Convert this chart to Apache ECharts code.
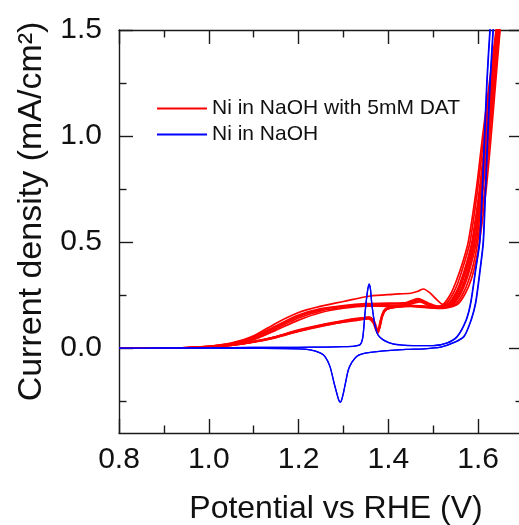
<!DOCTYPE html>
<html>
<head>
<meta charset="utf-8">
<script src="https://cdn.jsdelivr.net/npm/echarts@6/dist/echarts.min.js"></script>
<style>
  html, body { margin: 0; padding: 0; background: #fff; }
  #chart { width: 519px; height: 525px; }
</style>
</head>
<body>
<div id="chart"></div>
<script>
// Cyclic voltammograms of Ni electrodes, current density vs potential.
// Each cycle: anodic sweep from 0.80 V, then cathodic sweep back.

const seriesNames = ['Ni in NaOH with 5mM DAT', 'Ni in NaOH'];

const xTickLabels = [0.8, 1.0, 1.2, 1.4, 1.6];
const yTickLabels = [0.0, 0.5, 1.0, 1.5];
const yMinorTicks = [-0.25, 0.25, 0.75, 1.25];

// Ni in NaOH with 5 mM DAT, five cycles
const datCycle1 = [
  [0.80,0.000],[0.90,0.001],[0.95,0.003],[1.00,0.009],[1.05,0.024],[1.10,0.058],[1.15,0.118],[1.20,0.168],
  [1.25,0.198],[1.30,0.220],[1.36,0.246],[1.41,0.254],[1.45,0.259],[1.466,0.268],[1.478,0.279],[1.492,0.262],
  [1.509,0.226],[1.522,0.205],[1.534,0.210],[1.550,0.26],[1.562,0.32],[1.574,0.40],[1.586,0.50],[1.603,0.75],
  [1.616,1.00],[1.629,1.25],[1.643,1.50],[1.650,1.62],
  [1.652,1.62],[1.644,1.50],[1.631,1.25],[1.618,1.00],[1.605,0.75],[1.588,0.50],[1.577,0.40],[1.565,0.32],
  [1.553,0.26],[1.537,0.21],[1.515,0.195],[1.48,0.198],[1.45,0.202],[1.42,0.198],[1.40,0.192],[1.39,0.178],
  [1.384,0.145],[1.379,0.098],[1.376,0.074],[1.372,0.092],[1.366,0.126],[1.356,0.142],[1.33,0.136],[1.30,0.126],
  [1.25,0.107],[1.20,0.083],[1.15,0.053],[1.10,0.030],[1.05,0.014],[1.00,0.005],[0.95,0.002],[0.90,0.001],[0.80,0.000]
];
const datCycle2 = [
  [0.80,0.000],[0.90,0.001],[0.95,0.003],[1.00,0.008],[1.05,0.021],[1.10,0.050],[1.15,0.100],[1.20,0.150],
  [1.25,0.182],[1.30,0.198],[1.35,0.207],[1.40,0.208],[1.44,0.212],[1.468,0.230],[1.49,0.208],[1.51,0.195],
  [1.524,0.21],[1.540,0.26],[1.552,0.32],[1.565,0.40],[1.578,0.50],[1.596,0.75],[1.610,1.00],[1.625,1.25],
  [1.640,1.50],[1.646,1.62],
  [1.651,1.62],[1.645,1.50],[1.633,1.25],[1.620,1.00],[1.608,0.75],[1.592,0.50],[1.581,0.40],[1.570,0.32],
  [1.558,0.26],[1.542,0.21],[1.52,0.193],[1.49,0.195],[1.46,0.200],[1.43,0.197],[1.405,0.190],[1.392,0.176],
  [1.385,0.142],[1.380,0.095],[1.377,0.072],[1.373,0.088],[1.367,0.122],[1.357,0.140],[1.33,0.133],[1.30,0.124],
  [1.25,0.105],[1.20,0.080],[1.15,0.051],[1.10,0.029],[1.05,0.013],[1.00,0.005],[0.95,0.002],[0.90,0.001],[0.80,0.000]
];
const datCycle3 = [
  [0.80,0.000],[0.90,0.001],[0.95,0.002],[1.00,0.007],[1.05,0.019],[1.10,0.045],[1.15,0.092],[1.20,0.142],
  [1.25,0.176],[1.30,0.193],[1.35,0.203],[1.40,0.202],[1.44,0.207],[1.47,0.224],[1.49,0.206],[1.51,0.190],
  [1.529,0.21],[1.545,0.26],[1.557,0.32],[1.569,0.40],[1.582,0.50],[1.599,0.75],[1.613,1.00],[1.627,1.25],
  [1.641,1.50],[1.647,1.62],
  [1.652,1.62],[1.646,1.50],[1.635,1.25],[1.623,1.00],[1.611,0.75],[1.596,0.50],[1.585,0.40],[1.574,0.32],
  [1.562,0.26],[1.546,0.21],[1.525,0.192],[1.50,0.190],[1.47,0.196],[1.44,0.199],[1.41,0.191],[1.394,0.180],
  [1.386,0.148],[1.381,0.100],[1.377,0.078],[1.373,0.094],[1.367,0.128],[1.356,0.145],[1.33,0.138],[1.30,0.128],
  [1.25,0.108],[1.20,0.084],[1.15,0.054],[1.10,0.031],[1.05,0.015],[1.00,0.006],[0.95,0.002],[0.90,0.001],[0.80,0.000]
];
const datCycle4 = [
  [0.80,0.000],[0.90,0.001],[0.95,0.003],[1.00,0.009],[1.05,0.023],[1.10,0.054],[1.15,0.106],[1.20,0.156],
  [1.25,0.186],[1.30,0.201],[1.35,0.210],[1.40,0.212],[1.44,0.215],[1.466,0.234],[1.49,0.212],[1.51,0.198],
  [1.525,0.198],[1.538,0.21],[1.554,0.26],[1.566,0.32],[1.578,0.40],[1.589,0.50],[1.606,0.75],[1.619,1.00],
  [1.631,1.25],[1.644,1.50],[1.650,1.62],
  [1.654,1.62],[1.648,1.50],[1.637,1.25],[1.626,1.00],[1.615,0.75],[1.599,0.50],[1.590,0.40],[1.579,0.32],
  [1.567,0.26],[1.551,0.21],[1.53,0.195],[1.50,0.193],[1.47,0.198],[1.44,0.201],[1.41,0.194],[1.395,0.182],
  [1.387,0.150],[1.382,0.104],[1.378,0.080],[1.374,0.097],[1.368,0.130],[1.357,0.147],[1.33,0.140],[1.30,0.130],
  [1.25,0.110],[1.20,0.086],[1.15,0.055],[1.10,0.032],[1.05,0.015],[1.00,0.006],[0.95,0.002],[0.90,0.001],[0.80,0.000]
];
const datCycle5 = [
  [0.80,0.000],[0.90,0.001],[0.95,0.002],[1.00,0.006],[1.05,0.017],[1.10,0.040],[1.15,0.085],[1.20,0.132],
  [1.25,0.168],[1.30,0.188],[1.35,0.198],[1.40,0.197],[1.44,0.202],[1.47,0.218],[1.49,0.201],[1.51,0.187],
  [1.528,0.190],[1.543,0.21],[1.559,0.26],[1.571,0.32],[1.582,0.40],[1.593,0.50],[1.609,0.75],[1.621,1.00],
  [1.633,1.25],[1.645,1.50],[1.651,1.62],
  [1.656,1.62],[1.649,1.50],[1.639,1.25],[1.629,1.00],[1.618,0.75],[1.603,0.50],[1.594,0.40],[1.584,0.32],
  [1.572,0.26],[1.556,0.21],[1.535,0.192],[1.51,0.188],[1.48,0.192],[1.45,0.197],[1.42,0.193],[1.40,0.186],
  [1.39,0.172],[1.384,0.140],[1.379,0.092],[1.376,0.070],[1.372,0.087],[1.366,0.120],[1.355,0.138],[1.33,0.131],
  [1.30,0.122],[1.25,0.103],[1.20,0.079],[1.15,0.050],[1.10,0.028],[1.05,0.013],[1.00,0.005],[0.95,0.002],[0.90,0.001],[0.80,0.000]
];

// Ni in NaOH, two cycles
const naohCycle1 = [
  [0.80,0.000],[0.90,0.001],[1.00,0.002],[1.10,0.003],[1.20,0.004],[1.26,0.005],[1.30,0.007],[1.325,0.010],
  [1.337,0.016],[1.343,0.050],[1.348,0.166],[1.353,0.262],[1.357,0.303],[1.360,0.282],[1.363,0.213],[1.367,0.150],
  [1.371,0.100],[1.377,0.063],[1.389,0.039],[1.411,0.020],[1.456,0.012],[1.500,0.012],[1.531,0.025],[1.553,0.055],
  [1.573,0.133],[1.583,0.213],[1.594,0.370],[1.603,0.50],[1.609,0.75],[1.614,1.00],[1.619,1.25],[1.626,1.50],[1.632,1.65],
  [1.636,1.65],[1.633,1.50],[1.626,1.25],[1.621,1.00],[1.616,0.75],[1.611,0.50],[1.604,0.370],[1.594,0.213],
  [1.584,0.133],[1.568,0.055],[1.545,0.026],[1.516,0.005],[1.48,-0.003],[1.44,-0.006],[1.39,-0.013],[1.36,-0.020],
  [1.340,-0.028],[1.330,-0.038],[1.319,-0.066],[1.311,-0.102],[1.306,-0.149],[1.300,-0.212],[1.296,-0.245],[1.293,-0.256],
  [1.290,-0.248],[1.287,-0.228],[1.279,-0.164],[1.270,-0.087],[1.259,-0.040],[1.248,-0.022],[1.226,-0.008],[1.20,-0.003],
  [1.10,-0.001],[1.00,0.000],[0.90,0.000],[0.80,0.000]
];
const naohCycle2 = [
  [0.80,0.000],[0.90,0.001],[1.00,0.002],[1.10,0.003],[1.20,0.004],[1.26,0.005],[1.30,0.007],[1.325,0.010],
  [1.337,0.016],[1.343,0.048],[1.348,0.162],[1.353,0.258],[1.357,0.300],[1.360,0.280],[1.363,0.212],[1.367,0.148],
  [1.371,0.099],[1.377,0.062],[1.389,0.038],[1.411,0.019],[1.456,0.012],[1.500,0.012],[1.532,0.025],[1.554,0.055],
  [1.574,0.133],[1.584,0.213],[1.595,0.370],[1.604,0.50],[1.610,0.75],[1.615,1.00],[1.620,1.25],[1.627,1.50],[1.633,1.65],
  [1.637,1.65],[1.634,1.50],[1.627,1.25],[1.622,1.00],[1.617,0.75],[1.612,0.50],[1.605,0.370],[1.595,0.213],
  [1.585,0.133],[1.569,0.055],[1.546,0.026],[1.517,0.005],[1.48,-0.003],[1.44,-0.006],[1.39,-0.013],[1.36,-0.020],
  [1.340,-0.028],[1.330,-0.038],[1.319,-0.066],[1.311,-0.102],[1.306,-0.149],[1.300,-0.210],[1.296,-0.243],[1.293,-0.254],
  [1.290,-0.246],[1.287,-0.226],[1.279,-0.163],[1.270,-0.086],[1.259,-0.040],[1.248,-0.022],[1.226,-0.008],[1.20,-0.003],
  [1.10,-0.001],[1.00,0.000],[0.90,0.000],[0.80,0.000]
];

const datCycles = [datCycle1, datCycle2, datCycle3, datCycle4, datCycle5];
const naohCycles = [naohCycle1, naohCycle2];

const RED = '#ff0000';
const BLUE = '#0000ff';
const AXIS = '#1a1a1a';
const FONT = '"Liberation Sans", Arial, sans-serif';

function cycleSeries(data, name, color, width) {
  return {
    type: 'line',
    name: name,
    data: data,
    xAxisIndex: 0,
    yAxisIndex: 0,
    showSymbol: false,
    smooth: 0.25,
    clip: true,
    color: color,
    lineStyle: { color: color, width: width },
    emphasis: { disabled: true },
    silent: true,
    animation: false
  };
}

const series = []
  .concat(datCycles.map(c => cycleSeries(c, seriesNames[0], RED, 1.7)))
  .concat(naohCycles.map(c => cycleSeries(c, seriesNames[1], BLUE, 1.3)));

const lineStyle = { color: AXIS, width: 1.4 };

function xAxisDef(position, showLabels) {
  return {
    type: 'value',
    position: position,
    min: 0.8,
    max: 1.7,
    interval: 0.2,
    axisLine: { show: true, onZero: false, lineStyle: lineStyle },
    axisTick: { show: true, inside: true, length: 14, lineStyle: lineStyle },
    minorTick: { show: true, splitNumber: 2, length: 7.5, lineStyle: lineStyle },
    splitLine: { show: false },
    minorSplitLine: { show: false },
    axisLabel: {
      show: showLabels,
      showMaxLabel: false,
      fontSize: 30,
      fontFamily: FONT,
      color: '#111',
      margin: 12,
      formatter: v => xTickLabels.some(t => Math.abs(t - v) < 1e-6) ? v.toFixed(1) : ''
    },
    name: showLabels ? 'Potential vs RHE (V)' : '',
    nameLocation: 'middle',
    nameGap: 60,
    nameTextStyle: { fontSize: 32, fontFamily: FONT, color: '#111', padding: [0, 0, 0, 30] }
  };
}

function yAxisDef(position, values, tickLen, showLabels, withLine, title) {
  return {
    type: 'value',
    position: position,
    min: -0.4,
    max: 1.5,
    axisLine: { show: withLine, onZero: false, lineStyle: lineStyle },
    axisTick: { show: true, inside: true, length: tickLen, customValues: values, lineStyle: lineStyle },
    splitLine: { show: false },
    axisLabel: {
      show: showLabels,
      customValues: values,
      fontSize: 30,
      fontFamily: FONT,
      color: '#111',
      margin: 17,
      formatter: v => v.toFixed(1)
    },
    name: title || '',
    nameLocation: 'middle',
    nameGap: 70,
    nameRotate: 90,
    nameTextStyle: { fontSize: 34, fontFamily: FONT, color: '#111', padding: [0, 0, 0, 40] }
  };
}

const chart = echarts.init(document.getElementById('chart'), null, { renderer: 'canvas' });
chart.setOption({
  animation: false,
  backgroundColor: '#ffffff',
  grid: { left: 119, top: 30, right: -4, bottom: 92, containLabel: false, outerBoundsMode: 'none' },
  legend: {
    orient: 'vertical',
    left: 152,
    top: 93,
    itemWidth: 50,
    itemHeight: 2,
    itemGap: 5,
    icon: 'rect',
    selectedMode: false,
    textStyle: { fontSize: 21, fontFamily: FONT, color: '#111' },
    data: seriesNames
  },
  xAxis: [xAxisDef('bottom', true), xAxisDef('top', false)],
  yAxis: [
    yAxisDef('left', yTickLabels, 14, true, true, 'Current density (mA/cm²)'),
    yAxisDef('left', yMinorTicks, 7.5, false, false),
    yAxisDef('right', yTickLabels, 14, false, true),
    yAxisDef('right', yMinorTicks, 7.5, false, false)
  ],
  series: series
});
</script>
</body>
</html>
